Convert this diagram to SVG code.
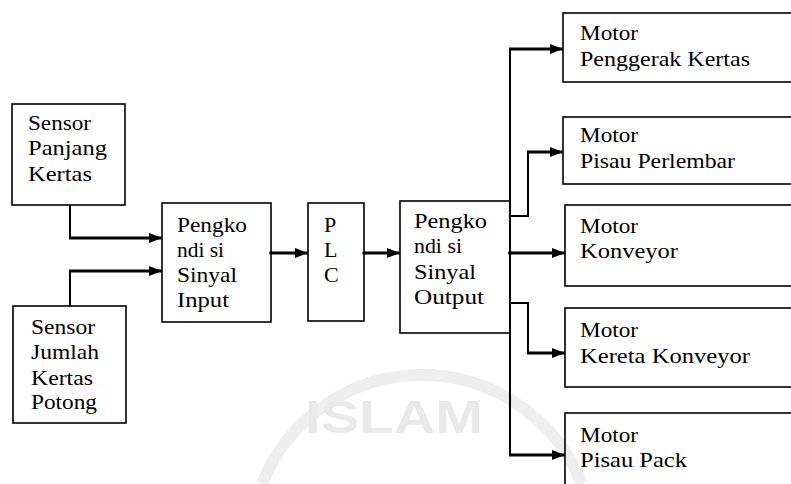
<svg xmlns="http://www.w3.org/2000/svg" width="791" height="484" viewBox="0 0 791 484">
<style>
.box{fill:none;stroke:#000;stroke-width:1.6}
.t{font-size:22px;fill:#000}
.v{fill:none;stroke:#000;stroke-width:2}
.h{fill:none;stroke:#000;stroke-width:3;marker-end:url(#ah)}
.wm{fill:#e9e9e9;font-weight:bold;font-size:46px}
</style>
<defs>
<marker id="ah" markerWidth="13" markerHeight="10" refX="13" refY="5" orient="auto" markerUnits="userSpaceOnUse">
<path d="M0,0 L13,5 L0,10 z" fill="#000"/>
</marker>
</defs>
<rect width="791" height="484" fill="#fff"/>
<g id="watermark" font-family="Liberation Sans, Arial, sans-serif">
<path d="M262,484 A172,172 0 0 1 582,484" fill="none" stroke="#eeeeee" stroke-width="12"/>
<text class="wm" x="305" y="433" textLength="178" lengthAdjust="spacingAndGlyphs">ISLAM</text>
</g>
<g id="connectors">
<path class="v" d="M70,205 V238"/>
<path class="h" d="M69,238 H162"/>
<path class="v" d="M70,306 V271"/>
<path class="h" d="M69,271 H162"/>
<path class="h" d="M271,253 H308"/>
<path class="h" d="M364,253 H400"/>
<path class="v" d="M510,48 V456"/>
<path class="h" d="M509,49 H563"/>
<path class="v" d="M510,216 H528 V151"/>
<path class="h" d="M527,152 H563"/>
<path class="h" d="M509,253 H565"/>
<path class="v" d="M510,303 H528 V354"/>
<path class="h" d="M527,353 H565"/>
<path class="h" d="M509,455 H565"/>
<circle cx="271" cy="253" r="1.8"/>
<circle cx="364" cy="253" r="1.8"/>
<circle cx="510" cy="253" r="2"/>
</g>
<g font-family="Liberation Serif, Times New Roman, serif">
<g id="sensor-panjang">
<rect class="box" x="12" y="104" width="113" height="101"/>
<text class="t" x="28" y="130" textLength="63" lengthAdjust="spacingAndGlyphs">Sensor</text>
<text class="t" x="28" y="155" textLength="79" lengthAdjust="spacingAndGlyphs">Panjang</text>
<text class="t" x="28" y="181" textLength="64" lengthAdjust="spacingAndGlyphs">Kertas</text>
</g>
<g id="sensor-jumlah">
<rect class="box" x="13" y="306" width="113" height="117"/>
<text class="t" x="31" y="334" textLength="64" lengthAdjust="spacingAndGlyphs">Sensor</text>
<text class="t" x="31" y="359" textLength="68" lengthAdjust="spacingAndGlyphs">Jumlah</text>
<text class="t" x="31" y="385" textLength="62" lengthAdjust="spacingAndGlyphs">Kertas</text>
<text class="t" x="31" y="409" textLength="66" lengthAdjust="spacingAndGlyphs">Potong</text>
</g>
<g id="pengkondisi-input">
<rect class="box" x="162" y="203" width="109" height="119"/>
<text class="t" x="177" y="232" textLength="70" lengthAdjust="spacingAndGlyphs">Pengko</text>
<text class="t" x="177" y="257" textLength="47" lengthAdjust="spacingAndGlyphs">ndi si</text>
<text class="t" x="177" y="282" textLength="60" lengthAdjust="spacingAndGlyphs">Sinyal</text>
<text class="t" x="177" y="307" textLength="52" lengthAdjust="spacingAndGlyphs">Input</text>
</g>
<g id="plc">
<rect class="box" x="308" y="203" width="56" height="118"/>
<text class="t" x="324" y="232">P</text>
<text class="t" x="324" y="257">L</text>
<text class="t" x="324" y="282">C</text>
</g>
<g id="pengkondisi-output">
<rect class="box" x="400" y="201" width="110" height="132"/>
<text class="t" x="414" y="228" textLength="73" lengthAdjust="spacingAndGlyphs">Pengko</text>
<text class="t" x="414" y="253" textLength="48" lengthAdjust="spacingAndGlyphs">ndi si</text>
<text class="t" x="414" y="279" textLength="62" lengthAdjust="spacingAndGlyphs">Sinyal</text>
<text class="t" x="414" y="304" textLength="70" lengthAdjust="spacingAndGlyphs">Output</text>
</g>
<g id="motor-penggerak">
<rect class="box" x="563" y="13" width="232" height="69"/>
<text class="t" x="580" y="40" textLength="58" lengthAdjust="spacingAndGlyphs">Motor</text>
<text class="t" x="580" y="66" textLength="170" lengthAdjust="spacingAndGlyphs">Penggerak Kertas</text>
</g>
<g id="motor-perlembar">
<rect class="box" x="563" y="117" width="232" height="67"/>
<text class="t" x="580" y="142" textLength="58" lengthAdjust="spacingAndGlyphs">Motor</text>
<text class="t" x="580" y="168" textLength="155" lengthAdjust="spacingAndGlyphs">Pisau Perlembar</text>
</g>
<g id="motor-konveyor">
<rect class="box" x="565" y="205" width="230" height="81"/>
<text class="t" x="580" y="233" textLength="58" lengthAdjust="spacingAndGlyphs">Motor</text>
<text class="t" x="580" y="258" textLength="98" lengthAdjust="spacingAndGlyphs">Konveyor</text>
</g>
<g id="motor-kereta">
<rect class="box" x="565" y="308" width="230" height="79"/>
<text class="t" x="580" y="337" textLength="58" lengthAdjust="spacingAndGlyphs">Motor</text>
<text class="t" x="580" y="363" textLength="170" lengthAdjust="spacingAndGlyphs">Kereta Konveyor</text>
</g>
<g id="motor-pack">
<rect class="box" x="565" y="413" width="230" height="80"/>
<text class="t" x="580" y="442" textLength="58" lengthAdjust="spacingAndGlyphs">Motor</text>
<text class="t" x="580" y="467" textLength="107" lengthAdjust="spacingAndGlyphs">Pisau Pack</text>
</g>
</g>
</svg>
